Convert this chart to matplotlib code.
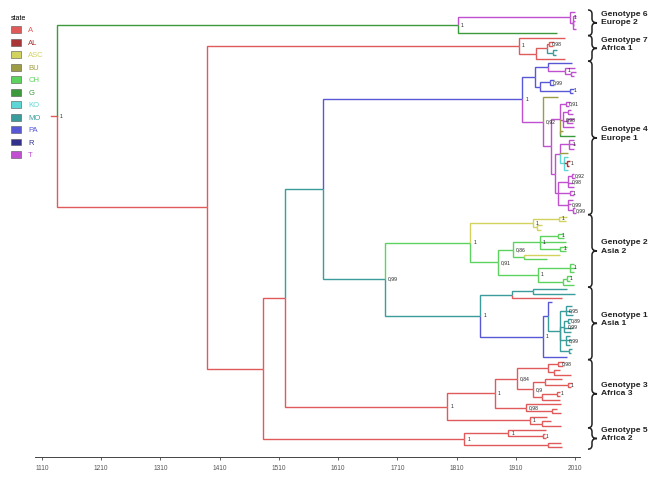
import numpy as np
import matplotlib.pyplot as plt
from matplotlib.patches import Patch, PathPatch
from matplotlib.path import Path

plt.rcParams['font.family'] = ['Liberation Sans', 'DejaVu Sans']


def N(year, state, kids, label=None):
    return {'year': year, 'state': state, 'kids': kids, 'label': label}


def L(year, state):
    return {'year': year, 'state': state, 'kids': [], 'label': None}


# discrete states (legend) and their colours
states = ['A', 'AL', 'ASC', 'BU', 'CH', 'G', 'KO', 'MO', 'PA', 'R', 'T']
state_colors = ['#e05a5a', '#a83636', '#d2d25e', '#9c9c44', '#5ed25e', '#3c9a3c',
                '#5ed6d6', '#3c9c9c', '#5858d6', '#32328c', '#c050d0']

# ---- clades (node year, state, children, posterior) ----
g6 = N(1812, 'G', [
    N(2002, 'T', [L(2010, 'T'), N(2006, 'T', [L(2011, 'T'), L(2010, 'T'), L(2009, 'T'), L(2011, 'T')])], '1'),
    L(1980, 'G')], '1')

g7 = N(1915, 'A', [
    L(1993, 'A'),
    N(1944, 'A', [
        N(1962, 'A', [N(1966, 'A', [L(1974, 'A'), L(1973, 'A')], '0,98'),
                      N(1973, 'MO', [L(1980, 'MO'), L(1978, 'MO')])]),
        L(1993, 'A')])], '1')

g4_top = N(1942, 'PA', [
    N(1964, 'PA', [L(2005, 'PA'),
                   N(1993, 'T', [L(2010, 'T'), N(2003, 'T', [L(2011, 'T'), L(2009, 'T')])], '1')]),
    N(1951, 'PA', [N(1968, 'PA', [L(1975, 'PA'), L(1974, 'PA')], '0,99'),
                   N(2002, 'PA', [L(2008, 'PA'), L(2007, 'PA')], '1')])])
g4_x1 = N(1984, 'T', [
    N(1995, 'T', [L(2001, 'T'), L(2000, 'T')], '0,91'),
    N(1990, 'T', [N(1999, 'T', [L(2004, 'T'), L(2006, 'T')]),
                  N(1997, 'T', [L(2008, 'T'), L(2006, 'T')]),
                  L(2009, 'T')], '0,98'),
    N(1985, 'BU', [L(1990, 'BU'), L(2010, 'G')])])
g4_x2a = N(1985, 'T', [
    N(2000, 'T', [L(2008, 'T'), L(2010, 'T'), L(2009, 'T')], '1'),
    L(1998, 'BU'),
    N(1992, 'KO', [L(1998, 'KO'), N(1997, 'AL', [L(2001, 'AL'), L(2000, 'AL')], '1'), L(1999, 'KO')])])
g4_x2b = N(1982, 'T', [
    N(1999, 'T', [N(2005, 'T', [L(2009, 'T'), L(2010, 'T')], '0,92'), L(2007, 'T'), L(2008, 'T')], '0,98'),
    N(2001, 'T', [L(2007, 'T'), L(2009, 'T')], '1'),
    N(1999, 'T', [L(2006, 'T'), L(2004, 'T'), N(2006, 'T', [L(2010, 'T'), L(2011, 'T')], '0,99')], '0,99')])
g4 = N(1921, 'PA', [
    g4_top,
    N(1956, 'T', [L(1981, 'BU'),
                  N(1970, 'T', [g4_x1, N(1977, 'T', [g4_x2a, g4_x2b])])], '0,92')], '1')

g2_yel = N(1939, 'ASC', [N(1983, 'ASC', [L(1997, 'ASC'), L(1994, 'ASC')], '1'),
                         N(1945, 'ASC', [L(1955, 'ASC'), L(1952, 'ASC')])], '1')
g2_a = N(1905, 'CH', [
    N(1951, 'CH', [N(1982, 'CH', [L(1990, 'CH'), L(1992, 'CH')], '1'), L(1995, 'CH'),
                   N(1985, 'CH', [L(1997, 'CH'), L(1995, 'CH')], '1')], '1'),
    N(1924, 'CH', [L(1985, 'ASC'), L(1963, 'CH')])], '0,86')
g2_b = N(1947, 'CH', [
    N(2002, 'CH', [L(2008, 'CH'), L(2010, 'CH'), L(2009, 'CH')], '1'),
    N(1990, 'CH', [N(1996, 'CH', [L(2003, 'CH'), L(2001, 'CH')], '1'), L(2008, 'CH')])], '1')
g2 = N(1833, 'CH', [g2_yel, N(1880, 'CH', [g2_a, g2_b], '0,91')], '1')

g1_teal = N(1985, 'MO', [
    N(1995, 'MO', [L(2005, 'MO'), L(2003, 'MO'), L(2006, 'MO')], '0,95'),
    N(1992, 'MO', [N(1998, 'MO', [L(2004, 'MO'), L(2002, 'MO')], '0,89'), L(2006, 'MO'), L(2003, 'MO')], '0,99'),
    N(1994, 'MO', [L(2002, 'MO'), L(2004, 'MO'), L(2001, 'MO')], '0,99'),
    N(2000, 'MO', [L(2005, 'MO'), L(2003, 'MO')])])
g1 = N(1850, 'MO', [
    N(1904, 'MO', [N(1939, 'MO', [L(1997, 'MO'), L(2010, 'MO')]), L(1988, 'A')]),
    N(1956, 'PA', [N(1964, 'PA', [L(1971, 'PA'), g1_teal]), L(1997, 'PA')], '1')], '1')

g3_u1 = N(1912, 'A', [
    N(1964, 'A', [N(1982, 'A', [L(1992, 'A'), L(1990, 'A')], '0,98'), N(1975, 'A', [L(1985, 'A'), L(2003, 'A')])]),
    N(1939, 'A', [N(1960, 'A', [L(1988, 'A'), N(1998, 'A', [L(2005, 'A'), L(2003, 'A')], '1')]),
                  N(1955, 'A', [N(1980, 'A', [L(1985, 'A'), L(1984, 'A')], '1'), L(1985, 'A')])], '0,9')],
    '0,84')
g3 = N(1794, 'A', [
    N(1875, 'A', [g3_u1, N(1927, 'A', [L(1986, 'A'), N(1971, 'A', [L(1980, 'A'), L(1986, 'A')])], '0,98')], '1'),
    N(1934, 'A', [L(1962, 'A'), N(1955, 'A', [L(1970, 'A'), L(1987, 'A')])], '1')], '1')

g5 = N(1823, 'A', [
    N(1897, 'A', [L(1961, 'A'), N(1956, 'A', [L(1960, 'A'), L(1961, 'A')], '1')], '1'),
    N(1964, 'A', [L(1986, 'A'), L(1988, 'A')])], '1')

# backbone
root = N(1135, 'A', [
    g6,
    N(1389, 'A', [
        g7,
        N(1483, 'A', [
            N(1520, 'A', [
                N(1585, 'MO', [g4, N(1689, 'MO', [g2, g1], '0,99')]),
                g3]),
            g5])])], '1')

clades = [g6, g7, g4, g2, g1, g3, g5]
clade_names = ['Genotype 6\nEurope 2', 'Genotype 7\nAfrica 1', 'Genotype 4\nEurope 1',
               'Genotype 2\nAsia 2', 'Genotype 1\nAsia 1', 'Genotype 3\nAfrica 3',
               'Genotype 5\nAfrica 2']
year_ticks = np.arange(1110, 2011, 100)

col = dict(zip(states, state_colors))


def place(node, counter):
    if not node['kids']:
        node['y'] = node['t0'] = node['t1'] = counter[0]
        counter[0] += 1
    else:
        for k in node['kids']:
            place(k, counter)
        node['y'] = (node['kids'][0]['y'] + node['kids'][-1]['y']) / 2
        node['t0'] = node['kids'][0]['t0']
        node['t1'] = node['kids'][-1]['t1']


def draw(ax, node):
    for k in node['kids']:
        ax.plot([node['year'], node['year'], k['year']], [node['y'], k['y'], k['y']],
                color=col[k['state']], lw=1.0, solid_capstyle='butt', solid_joinstyle='miter')
        draw(ax, k)
    if node['label']:
        ax.annotate(node['label'], (node['year'], node['y']), xytext=(2.2, 0),
                    textcoords='offset points', fontsize=3.6, va='center', ha='left', color='#222222')


place(root, [0])

fig = plt.figure(figsize=(6.53, 4.79), dpi=100)
ax = fig.add_axes([0, 0, 1, 1])
x0, x1 = 1039.1, 2141.7
y_top, y_bot = -2.84, 109.5
ax.set_xlim(x0, x1)
ax.set_ylim(y_bot, y_top)
px_x = 653 / (x1 - x0)
px_y = 479 / (y_bot - y_top)

ax.plot([root['year'] - 9, root['year']], [root['y'], root['y']], color=col['A'], lw=1.0)
draw(ax, root)

# braces and genotype labels
bx = x0 + 588 / px_x
for clade, name in zip(clades, clade_names):
    ya = clade['t0'] - 0.5
    yb = clade['t1'] + 0.5
    ym = (ya + yb) / 2
    dx = lambda p: p / px_x
    dy = lambda p: p / px_y
    verts = [(bx, ya), (bx + dx(4), ya), (bx + dx(4), ya + dy(4)),
             (bx + dx(4), ym - dy(4)),
             (bx + dx(4), ym), (bx + dx(9), ym),
             (bx + dx(4), ym), (bx + dx(4), ym + dy(4)),
             (bx + dx(4), yb - dy(4)),
             (bx + dx(4), yb), (bx, yb)]
    codes = [Path.MOVETO, Path.CURVE3, Path.CURVE3, Path.LINETO,
             Path.CURVE3, Path.CURVE3, Path.CURVE3, Path.CURVE3,
             Path.LINETO, Path.CURVE3, Path.CURVE3]
    ax.add_patch(PathPatch(Path(verts, codes), fill=False, lw=1.1, color='#222222'))
    ax.text(x0 + 601 / px_x, ym - dy(4), name, fontsize=6.1, fontweight='bold',
            va='center', ha='left', linespacing=1.25, color='#222222')

# time axis
for s in ['top', 'left', 'right']:
    ax.spines[s].set_visible(False)
ax.spines['bottom'].set_position(('data', y_top + 457 / px_y))
ax.spines['bottom'].set_bounds(1098, 2018)
ax.spines['bottom'].set_color('#444444')
ax.spines['bottom'].set_linewidth(0.7)
ax.set_xticks(year_ticks)
ax.set_xticklabels([str(t) for t in year_ticks])
ax.tick_params(axis='x', direction='out', length=2.5, width=0.6, color='#444444',
               labelsize=4.7, labelcolor='#555555', pad=3)
ax.tick_params(axis='y', left=False, labelleft=False)

# legend
edge = ['#555555'] * len(states)
handles = [Patch(facecolor=c, edgecolor=e, linewidth=0.4) for c, e in zip(state_colors, edge)]
ax.legend(handles, states, title='state', loc='upper left',
          bbox_to_anchor=(11 / 653, 1 - 15 / 479), bbox_transform=fig.transFigure,
          frameon=False, fontsize=5.5, title_fontsize=5, handlelength=1.25, handleheight=1.0,
          handletextpad=1.0, labelspacing=0.58, borderpad=0, borderaxespad=0,
          alignment='left', labelcolor=state_colors)

fig.savefig('out.png', dpi=100)
